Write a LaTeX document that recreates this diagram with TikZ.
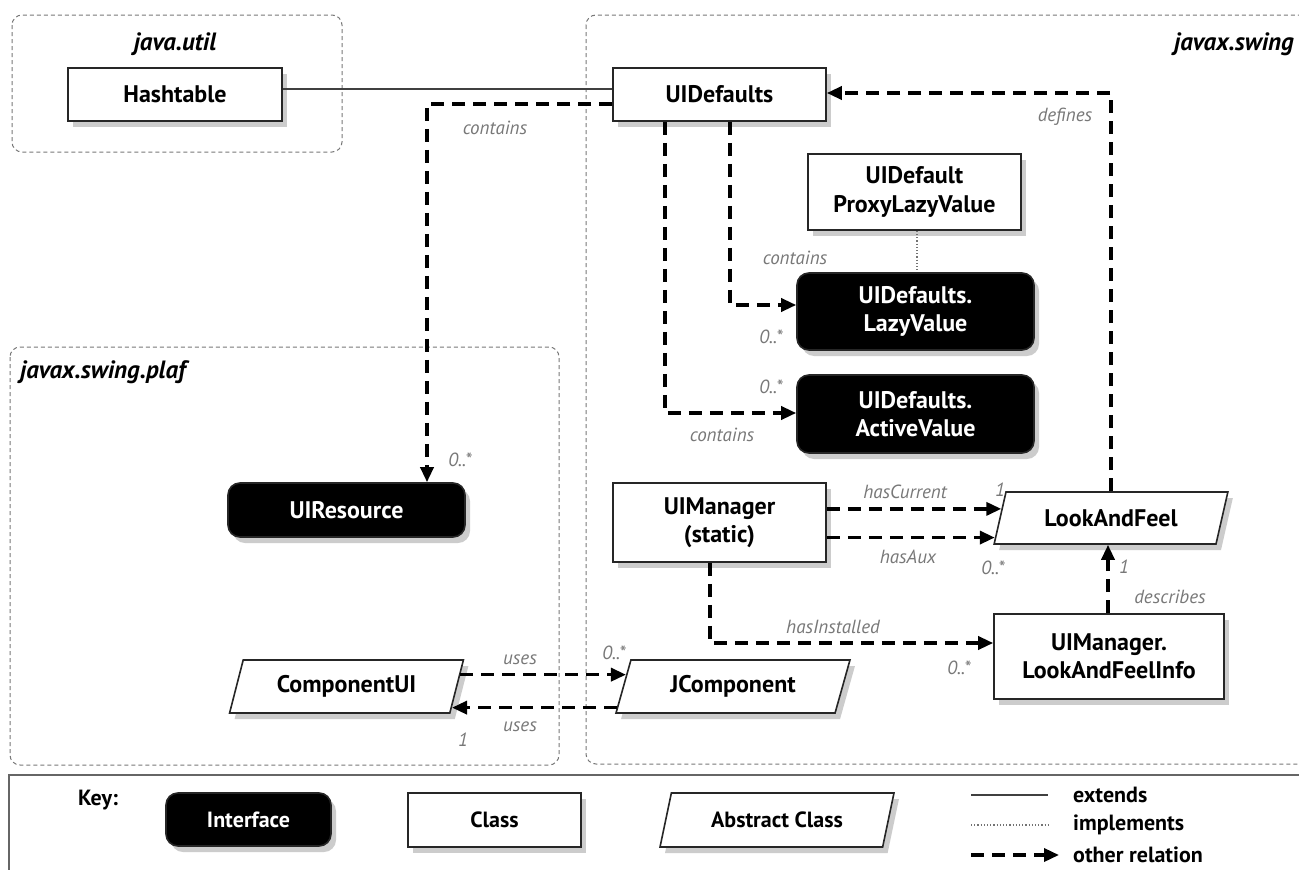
\documentclass[tikz,border=0pt]{standalone}
\usepackage{fontspec}
\setmainfont{PT Sans}
\usetikzlibrary{arrows.meta,shapes.geometric,calc,shadows}
\newcommand\bxfont{\fontsize{24}{28.5}\selectfont\bfseries}
\newcommand\kyfont{\fontsize{22}{26}\selectfont\bfseries}
\newcommand\lbfont{\fontsize{19}{22}\selectfont\itshape}
\newcommand\pkfont{\fontsize{25}{30}\selectfont\bfseries\itshape}
\definecolor{lblgray}{RGB}{120,120,120}
\definecolor{pkgray}{RGB}{120,120,120}
\begin{document}
\begin{tikzpicture}[x=1pt,y=-1pt,
  pkg/.style={draw=pkgray, line width=1pt, dash pattern=on 4pt off 3pt, rounded corners=10pt},
  pkl/.style={font=\pkfont, inner sep=0pt},
  cls/.style={draw=black!85, line width=1.6pt, fill=white, minimum width=213pt, minimum height=53pt,
    font=\bxfont, align=center, inner sep=2pt,
    drop shadow={opacity=0.4, shadow xshift=5pt, shadow yshift=-6pt}},
  iface/.style={cls, fill=black, text=white, rounded corners=12pt},
  abscls/.style={cls, trapezium, trapezium left angle=70, trapezium right angle=110,
    trapezium stretches=true, minimum width=234pt},
  rel/.style={line width=3.4pt, dash pattern=on 13pt off 8pt, -{Triangle[length=15pt,width=13pt]}},
  ext/.style={line width=1.3pt, draw=black!75},
  impl/.style={line width=1.2pt, draw=black!55, dotted},
  lbl/.style={font=\lbfont, text=lblgray, inner sep=0pt},
  keylbl/.style={font=\kyfont, inner sep=0pt, anchor=west},
]
\useasboundingbox (0,0) rectangle (1299,870);
\fill[white] (0,0) rectangle (1299,870);

% packages
\draw[pkg] (12,15) rectangle (342,152);
\node[pkl] (pju) at (175,44) {java.util};
\draw[pkg] (586,15) rectangle (1330,764);
\node[pkl, anchor=east] (pjs) at (1294,44) {javax.swing};
\draw[pkg] (10,347) rectangle (559,765);
\node[pkl, anchor=west] (pjp) at (20,372) {javax.swing.plaf};

% nodes
\node[cls, minimum width=214pt] (ht) at (175,94.5) {Hashtable};
\node[cls] (uid) at (719.5,94.5) {UIDefaults};
\node[cls, minimum height=76pt] (plv) at (914.5,192) {UIDefault\\ProxyLazyValue};
\node[iface, minimum width=237pt, minimum height=77pt] (lazy) at (915.5,311.5) {UIDefaults.\\LazyValue};
\node[iface, minimum width=237pt, minimum height=78pt] (act) at (915.5,414) {UIDefaults.\\ActiveValue};
\node[iface, minimum width=237pt, minimum height=54pt] (uires) at (346.5,510) {UIResource};
\node[cls, minimum height=79pt] (uim) at (719.5,522.5) {UIManager\\(static)};
\node[abscls, minimum height=52pt] (lf) at (1111,518) {LookAndFeel};
\node[cls, minimum width=230pt, minimum height=85pt] (lafi) at (1109,656.5) {UIManager.\\LookAndFeelInfo};
\node[abscls, minimum height=53pt] (jc) at (733,686.5) {JComponent};
\node[abscls, minimum height=53pt] (cui) at (346.5,686.5) {ComponentUI};

% connectors
\draw[ext] ([yshift=5.5pt]ht.east) -- ([yshift=5.5pt]uid.west);
\draw[rel] ([yshift=-9.5pt]uid.west) -| ([xshift=80.5pt]uires.north);
\draw[rel] (lf.north) |- ([yshift=1.5pt]uid.east);
\draw[rel] ([xshift=10.5pt]uid.south) |- ([yshift=6.5pt]lazy.west);
\draw[rel] ([xshift=-54.5pt]uid.south) |- ([yshift=1pt]act.west);
\draw[impl] ([xshift=2.5pt]plv.south) -- ([xshift=2.5pt]plv.south |- lazy.north);
\coordinate (hc) at ($(lf.top left corner)!0.33!(lf.bottom left corner)$);
\coordinate (ha) at ($(lf.top left corner)!0.865!(lf.bottom left corner)$);
\draw[rel] (uim.east |- hc) -- (hc);
\draw[rel] (uim.east |- ha) -- (ha);
\draw[rel] ([xshift=-9.5pt]uim.south) |- ([yshift=13.5pt]lafi.west);
\draw[rel] ([xshift=-1pt]lafi.north) -- ([xshift=-1pt]lafi.north |- lf.south);
\coordinate (u1s) at ($(cui.top right corner)!0.283!(cui.bottom right corner)$);
\coordinate (u1t) at ($(jc.top left corner)!0.283!(jc.bottom left corner)$);
\coordinate (u2s) at ($(jc.top left corner)!0.887!(jc.bottom left corner)$);
\coordinate (u2t) at ($(cui.top right corner)!0.887!(cui.bottom right corner)$);
\draw[rel] (u1s) -- (u1t);
\draw[rel] (u2s) -- (u2t);

% labels
\node[lbl] (l1) at (495,128) {contains};
\node[lbl] (l2) at (460,460) {0..*};
\node[lbl] (l3) at (1065,117) {defines};
\node[lbl] (l4) at (795,258) {contains};
\node[lbl] (l5) at (771,337) {0..*};
\node[lbl] (l6) at (771,387) {0..*};
\node[lbl] (l7) at (722,435) {contains};
\node[lbl] (l8) at (905,492) {hasCurrent};
\node[lbl] (l9) at (1000,490) {1};
\node[lbl] (l10) at (908,557) {hasAux};
\node[lbl] (l11) at (993,568) {0..*};
\node[lbl] (l12) at (833,627) {hasInstalled};
\node[lbl] (l13) at (959,668) {0..*};
\node[lbl] (l14) at (1170,597) {describes};
\node[lbl] (l15) at (1124,567) {1};
\node[lbl] (l16) at (520,660) {uses};
\node[lbl] (l17) at (614,653) {0..*};
\node[lbl] (l18) at (520,727) {uses};
\node[lbl] (l19) at (463,740) {1};

% key
\draw[draw=black!60, line width=1.6pt] (9,900) -- (9,775) -- (1330,775);
\node[font=\kyfont, inner sep=0pt] (key) at (98,800) {Key:};
\node[iface, font=\kyfont, minimum width=165pt, minimum height=53pt] (kI) at (248.5,819.5) {Interface};
\node[cls, font=\kyfont, minimum width=173pt, minimum height=54pt] (kC) at (494.5,820) {Class};
\node[abscls, font=\kyfont, minimum height=54pt] (kA) at (777,820) {Abstract Class};
\coordinate (e1) at (971,795); \coordinate (e2) at (1048,795);
\coordinate (i1) at (971,825); \coordinate (i2) at (1048,825);
\coordinate (o1) at (971,855); \coordinate (o2) at (1059,855);
\draw[ext] (e1) -- (e2);
\draw[impl] (i1) -- (i2);
\draw[rel] (o1) -- (o2);
\node[keylbl] (ke) at (1073,795) {extends};
\node[keylbl] (ki) at (1073,825) {implements};
\node[keylbl] (ko) at (1073,855) {other relation};
\end{tikzpicture}
\end{document}
